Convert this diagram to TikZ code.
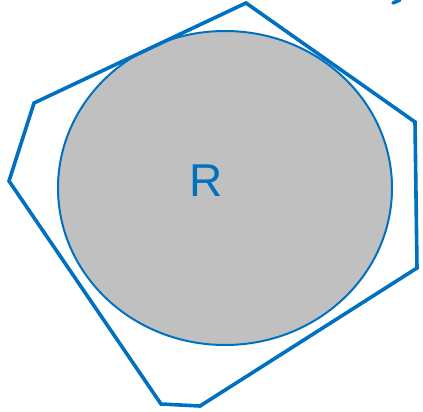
\documentclass[tikz,border=0pt]{standalone}
\usepackage{fontspec}
\setmainfont{Liberation Sans}
\usetikzlibrary{positioning, shapes.geometric}
\definecolor{hullblue}{HTML}{0070C0}
\definecolor{regiongray}{HTML}{C0C0C0}
\tikzset{
  hull/.style={draw=hullblue, line width=3.6pt, line join=miter},
  region/.style={ellipse, draw=hullblue, fill=regiongray, line width=2pt, inner sep=0pt}}

\begin{document}
\begin{tikzpicture}[x=1pt,y=-1pt]
  \useasboundingbox (0,0) rectangle (423,412);
  \coordinate (t) at (246,3);
  \coordinate (rt) at (415,122);
  \coordinate (rb) at (417,268);
  \coordinate (br) at (200,406);
  \coordinate (bl) at (161,404);
  \coordinate (lb) at (9,181);
  \coordinate (lt) at (34,103);
  \node [region, minimum width=334pt, minimum height=314pt] (reg) at (225,188) {};
  \node [text=hullblue, font=\fontsize{46}{46}\selectfont] (lab) at (206,181) {R};
  \draw [hull] (t) -- (rt) -- (rb) -- (br) -- (bl) -- (lb) -- (lt) -- cycle;
  % cut off letter at the top edge
  \draw [draw=hullblue, line width=3.5pt, line cap=round] (400,0) -- (393,3);
\end{tikzpicture}
\end{document}
